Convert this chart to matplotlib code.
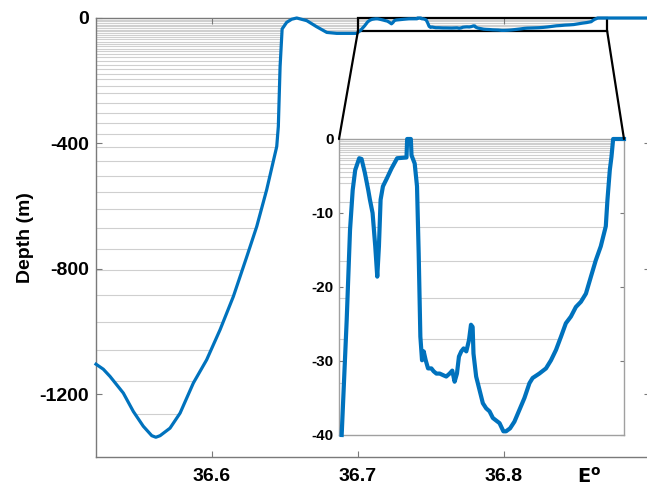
import matplotlib
matplotlib.use('Agg')
import matplotlib.pyplot as plt
from matplotlib.patches import Rectangle, ConnectionPatch
import numpy as np

plt.rcParams['font.family'] = ['Liberation Sans', 'DejaVu Sans']
plt.rcParams['font.weight'] = 'bold'
plt.rcParams['axes.unicode_minus'] = False

# ── bathymetry section (lon in degrees E, depth in m) ───────────────────────
# deep slope + shelf edge, west of the zoom box
deep_lon = [36.5205, 36.5255, 36.5301, 36.5392, 36.5461, 36.5529, 36.5587,
            36.5615, 36.5644, 36.5712, 36.5781, 36.5872, 36.5963, 36.6055,
            36.6146, 36.6238, 36.6306, 36.6374, 36.6443, 36.6454, 36.6466,
            36.6480, 36.6511, 36.6545, 36.6580, 36.6649, 36.6717, 36.6786,
            36.6854, 36.6991]
deep_depth = [-1104, -1120, -1143, -1196, -1255, -1302, -1332,
              -1337, -1332, -1308, -1260, -1164, -1090, -994,
              -888, -761, -665, -548, -410, -346, -155,
              -35, -14, -4, 0, -8.5, -28, -46,
              -49, -49]

# shallow part shown in the zoom panel
shelf_lon = [36.7016, 36.7046, 36.7066, 36.7082, 36.7097, 36.7121, 36.7135,
             36.7155, 36.7175, 36.7185, 36.7201, 36.7217, 36.7229, 36.7239,
             36.7249, 36.7263, 36.7287, 36.7314, 36.7348, 36.7404, 36.7408,
             36.7430, 36.7434, 36.7453, 36.7467, 36.7477, 36.7487, 36.7497,
             36.7507, 36.7519, 36.7533, 36.7553, 36.7567, 36.7583, 36.7603,
             36.7622, 36.7642, 36.7662, 36.7678, 36.7692, 36.7706, 36.7718,
             36.7732, 36.7746, 36.7762, 36.7778, 36.7790, 36.7800, 36.7805,
             36.7821, 36.7841, 36.7861, 36.7881, 36.7901, 36.7921, 36.7961,
             36.7984, 36.8000, 36.8024, 36.8050, 36.8080, 36.8110, 36.8140,
             36.8159, 36.8199, 36.8239, 36.8269, 36.8299, 36.8329, 36.8358,
             36.8388, 36.8418, 36.8448, 36.8478, 36.8508, 36.8537, 36.8567,
             36.8597, 36.8607, 36.8621, 36.8631, 36.8641, 36.8706]
shelf_depth = [-40, -24.5, -12.3, -6.9, -4.2, -2.6, -2.7,
               -4.6, -6.9, -8.2, -10.0, -14.5, -18.6, -14.5,
               -8.2, -6.4, -5.3, -4.0, -2.6, -2.5, 0,
               0, -2.2, -3.3, -6.4, -15.5, -26.7, -29.9,
               -28.7, -29.9, -31.0, -31.0, -31.4, -31.7, -31.7,
               -31.9, -32.1, -31.7, -31.3, -32.8, -31.7, -29.4,
               -28.7, -28.3, -28.7, -27.2, -25.1, -25.4, -29.0,
               -32.1, -33.9, -35.7, -36.4, -36.8, -37.7, -38.4,
               -39.5, -39.5, -39.1, -38.2, -36.6, -35.0, -33.0,
               -32.3, -31.7, -31.0, -29.9, -28.5, -26.7, -24.9,
               -24.0, -22.7, -22.0, -20.9, -18.6, -16.4, -14.5,
               -11.8, -8.2, -4.2, -2.4, 0, 0]

# coast east of the box
tail_lon = [36.95]
tail_depth = [0]

# model vertical levels (m)
main_levels = [-5, -10.6, -16, -21, -26.6, -32, -37, -43, -49, -55, -62, -68,
               -75, -83, -90, -98, -106, -116, -125, -136, -149, -162, -177,
               -194, -216, -240, -270, -302, -336, -370, -412, -455, -503,
               -556, -609, -670, -737, -805, -883, -969, -1058, -1157, -1262,
               -1370]
inset_levels = [-0.27, -0.5, -0.72, -0.95, -1.2, -1.5, -1.8, -2.2, -2.5, -2.9,
                -3.4, -3.9, -4.5, -5.1, -5.9, -8.5, -11.9, -16.5, -21.5, -27,
                -33]

lon = np.concatenate([deep_lon, shelf_lon, tail_lon])
depth = np.concatenate([deep_depth, shelf_depth, tail_depth])

blue = '#0072BD'
grid_c = '#cfcfcf'
axis_c = '#7a7a7a'

fig = plt.figure(figsize=(6.47, 4.87), dpi=100)

# ── main section ────────────────────────────────────────────────────────────
ax = fig.add_axes([96 / 647, 30 / 487, 554 / 647, 439 / 487])
xmin, xmax = 36.5205, 36.9
ax.hlines(main_levels, xmin, xmax, colors=grid_c, lw=0.8, zorder=0.5)
ax.fill_between(lon, depth, -1500, color='white', lw=0, zorder=1)
ax.add_patch(Rectangle((36.70, -40), 0.1706, 40, fill=False, ec='black',
                       lw=1.6, zorder=3, clip_on=False))
ax.plot(lon, depth, color=blue, lw=2.3, zorder=4, clip_on=False,
        solid_joinstyle='round')
ax.set_xlim(xmin, xmax)
ax.set_ylim(-1400, 0)
ax.set_xticks([36.6, 36.7, 36.8])
ax.set_yticks([-1200, -800, -400, 0])
ax.tick_params(direction='in', length=4, width=0.8, color=axis_c,
               labelsize=14, top=True, right=True)
ax.tick_params(axis='x', pad=8)
ax.tick_params(axis='y', pad=5)
for s in ax.spines.values():
    s.set_color(axis_c)
    s.set_linewidth(1.0)
ax.set_ylabel('Depth (m)', fontsize=14, fontweight='bold', labelpad=4)
ax.text(36.858, -0.045, r'$\mathbf{E^o}$', transform=ax.get_xaxis_transform(),
        ha='center', va='center', fontsize=14)

# ── zoom panel ──────────────────────────────────────────────────────────────
axin = fig.add_axes([339 / 647, 52 / 487, 285 / 647, 296 / 487])
axin.hlines(inset_levels, 36.70, 36.8706, colors=grid_c, lw=0.8, zorder=0.5)
axin.fill_between(shelf_lon, shelf_depth, -45, color='white', lw=0, zorder=1)
axin.plot(shelf_lon, shelf_depth, color=blue, lw=3.0, zorder=4, clip_on=False,
          solid_joinstyle='round')
axin.set_xlim(36.70, 36.8706)
axin.set_ylim(-40, 0)
axin.set_xticks([])
axin.set_yticks([-40, -30, -20, -10, 0])
axin.tick_params(direction='in', length=3, width=0.8, color=axis_c,
                 labelsize=11, right=True, pad=4)
for s in axin.spines.values():
    s.set_color('#a0a0a0')
    s.set_linewidth(1.0)

# connector lines between the box and the panel
for xa, xb in [(36.70, 0), (36.8706, 1)]:
    con = ConnectionPatch(xyA=(xa, -40), coordsA=ax.transData,
                          xyB=(xb, 1), coordsB=axin.transAxes,
                          color='black', lw=1.6)
    fig.add_artist(con)

plt.savefig('out.png', dpi=100)
plt.close()
